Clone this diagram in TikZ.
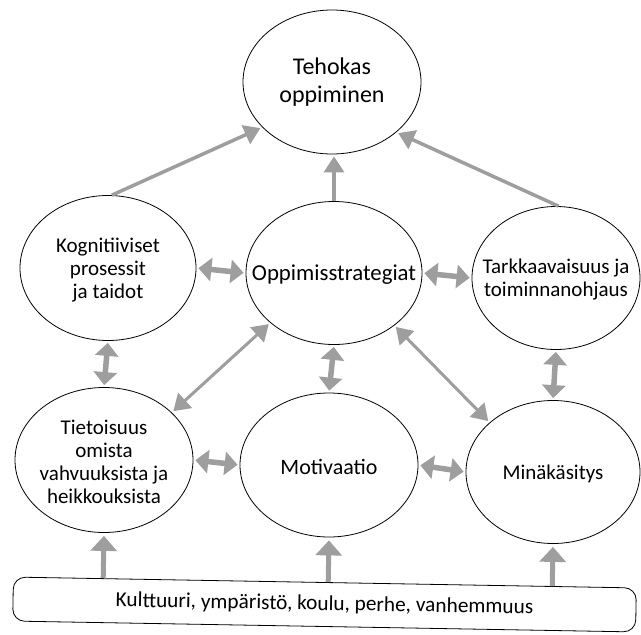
\documentclass[tikz,border=0pt]{standalone}
\usepackage{fontspec}
\setmainfont{Carlito}
\usetikzlibrary{shapes.geometric,arrows.meta,calc}
\definecolor{arrgray}{RGB}{158,158,158}
\begin{document}
\begin{tikzpicture}[x=1pt,y=-1pt,
  ell/.style={draw=black, line width=0.8pt, ellipse, inner sep=0pt},
  txt/.style={align=center, inner sep=0pt, yshift=-2pt, font=\fontsize{21}{23}\selectfont},
  bigtxt/.style={align=center, inner sep=0pt, font=\fontsize{24}{28}\selectfont},
  dbl/.style={draw=arrgray, line width=5.5pt,
    {Triangle[width=23pt,length=13pt]}-{Triangle[width=23pt,length=13pt]},
    shorten <=2pt, shorten >=2pt},
  longdbl/.style={draw=arrgray, line width=3pt,
    {Triangle[width=20pt,length=16pt]}-{Triangle[width=20pt,length=16pt]},
    shorten <=2pt, shorten >=2pt},
  toparr/.style={draw=arrgray, line width=3.5pt,
    -{Triangle[width=20pt,length=16pt]}, shorten >=2pt},
  uparr/.style={draw=arrgray, line width=5pt,
    -{Triangle[width=26pt,length=15pt]}, shorten >=3pt},
  basebox/.style={draw=black, line width=0.8pt, rounded corners=12pt,
    minimum width=623pt, minimum height=44pt, inner sep=0pt,
    font=\fontsize{21.3}{24}\selectfont}
]
\useasboundingbox (0,0) rectangle (641,635);
\fill[white] (0,0) rectangle (641,635);

\node[ell, minimum width=178pt, minimum height=144pt,
  label={[bigtxt]center:Tehokas\\oppiminen}] (teh) at (332,82) {};
\node[ell, minimum width=176pt, minimum height=145pt,
  label={[txt]center:Kognitiiviset\\prosessit\\ja taidot}] (kog) at (108,268) {};
\node[ell, minimum width=176pt, minimum height=143pt,
  label={[txt, font=\fontsize{22.8}{25}\selectfont]center:Oppimisstrategiat}] (opp) at (334,273) {};
\node[ell, minimum width=168pt, minimum height=143pt,
  label={[txt]center:Tarkkaavaisuus ja\\toiminnanohjaus}] (tark) at (556,278) {};
\node[ell, minimum width=178pt, minimum height=145pt,
  label={[txt]center:Tietoisuus\\omista\\vahvuuksista ja\\heikkouksista}] (ti) at (104,460) {};
\node[ell, minimum width=178pt, minimum height=144pt,
  label={[txt, font=\fontsize{22}{24}\selectfont]center:Motivaatio}] (mot) at (329,465) {};
\node[ell, minimum width=174pt, minimum height=143pt,
  label={[txt]center:Minäkäsitys}] (min) at (553,472) {};
\node[basebox, rotate=-1] (box) at (324.5,604.5) {Kulttuuri, ympäristö, koulu, perhe, vanhemmuus};

% to the top
\draw[toparr] (kog.87) -- (teh.213);
\draw[toparr] (opp.north) -- (opp.north |- teh.south);
\draw[toparr] (tark.88) -- (teh.322);

% horizontal double arrows
\draw[dbl] (kog.east) -- (opp.west);
\draw[dbl] (opp.east) -- (tark.west);
\draw[dbl] (ti.east) -- (mot.west);
\draw[dbl] (mot.east) -- (min.west);

% vertical double arrows
\draw[dbl] (kog.south) -- (ti.north);
\draw[dbl] (opp.south) -- (mot.north);
\draw[dbl] (tark.south) -- (min.north);

% diagonal double arrows
\draw[longdbl] (opp.218) -- (ti.35);
\draw[longdbl] (opp.319) -- (min.142);

% from the base
\draw[uparr] ($(box.north west)!(ti.south)!(box.north east)$) -- (ti.south);
\draw[uparr] ($(box.north west)!(mot.south)!(box.north east)$) -- (mot.south);
\draw[uparr] ($(box.north west)!(min.south)!(box.north east)$) -- (min.south);
\end{tikzpicture}
\end{document}
